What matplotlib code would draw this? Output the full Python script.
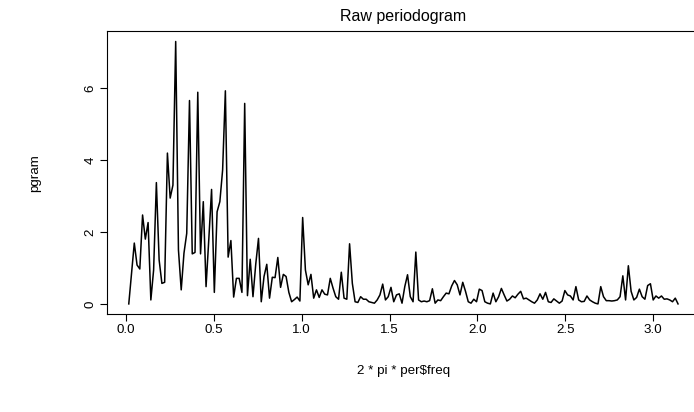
import numpy as np
import matplotlib
matplotlib.use("Agg")
import matplotlib.pyplot as plt

plt.rcParams['font.family'] = ['Liberation Sans', 'DejaVu Sans']

# raw periodogram ordinates (k = 1..200 of n = 400)
pgram = [
    0.00, 0.85, 1.69, 1.08, 0.97, 2.47, 1.80, 2.26, 0.11, 0.94,
    3.37, 1.22, 0.57, 0.60, 4.19, 2.94, 3.30, 7.29, 1.50, 0.39,
    1.41, 1.96, 5.65, 1.39, 1.43, 5.88, 1.39, 2.84, 0.48, 1.80,
    3.18, 0.32, 2.56, 2.84, 3.72, 5.92, 1.30, 1.76, 0.19, 0.71,
    0.71, 0.32, 5.57, 0.23, 1.24, 0.20, 1.10, 1.82, 0.06, 0.76,
    1.10, 0.16, 0.74, 0.73, 1.29, 0.46, 0.82, 0.76, 0.32, 0.06,
    0.12, 0.19, 0.08, 2.40, 0.94, 0.53, 0.82, 0.16, 0.39, 0.18,
    0.39, 0.27, 0.25, 0.71, 0.44, 0.20, 0.13, 0.88, 0.16, 0.13,
    1.67, 0.57, 0.06, 0.04, 0.20, 0.13, 0.13, 0.06, 0.04, 0.02,
    0.11, 0.25, 0.55, 0.11, 0.20, 0.46, 0.06, 0.25, 0.28, 0.02,
    0.48, 0.81, 0.20, 0.06, 1.44, 0.11, 0.06, 0.08, 0.06, 0.09,
    0.42, 0.02, 0.11, 0.09, 0.20, 0.30, 0.28, 0.50, 0.65, 0.53,
    0.25, 0.60, 0.35, 0.06, 0.02, 0.13, 0.06, 0.41, 0.37, 0.06,
    0.02, 0.00, 0.30, 0.06, 0.20, 0.43, 0.25, 0.08, 0.13, 0.22,
    0.17, 0.27, 0.35, 0.14, 0.16, 0.11, 0.06, 0.02, 0.11, 0.28,
    0.13, 0.32, 0.06, 0.04, 0.14, 0.08, 0.02, 0.08, 0.37, 0.25,
    0.22, 0.11, 0.48, 0.11, 0.06, 0.07, 0.22, 0.11, 0.06, 0.02,
    0.00, 0.48, 0.20, 0.09, 0.09, 0.08, 0.09, 0.11, 0.20, 0.78,
    0.11, 1.06, 0.35, 0.11, 0.18, 0.41, 0.20, 0.13, 0.51, 0.56,
    0.11, 0.22, 0.16, 0.22, 0.13, 0.14, 0.11, 0.06, 0.16, 0.00,
]
n_obs = 400
per_freq = np.arange(1, len(pgram) + 1) / n_obs

x_ticks = [0.0, 0.5, 1.0, 1.5, 2.0, 2.5, 3.0]
x_ticklabels = ['0.0', '0.5', '1.0', '1.5', '2.0', '2.5', '3.0']
y_ticks = [0, 2, 4, 6]
y_ticklabels = ['0', '2', '4', '6']

W, H = 694, 412
fig = plt.figure(figsize=(W / 100, H / 100), dpi=100)
# plot region in pixels (R style, right edge falls just off the image)
left, right, top, bottom = 106.8, 700.0, 31.0, 314.4
ax = fig.add_axes([left / W, 1 - bottom / H, (right - left) / W, (bottom - top) / H])

x = 2 * np.pi * per_freq
y = np.array(pgram)
ax.plot(x, y, color='black', lw=1.1)

# R's default 4% axis extension
xr = x.max() - x.min()
yr = y.max() - y.min()
ax.set_xlim(x.min() - 0.04 * xr, x.max() + 0.04 * xr)
ax.set_ylim(y.min() - 0.04 * yr, y.max() + 0.04 * yr)

fs = 9.6
ax.set_xticks(x_ticks)
ax.set_xticklabels(x_ticklabels, fontsize=fs)
ax.set_yticks(y_ticks)
ax.set_yticklabels(y_ticklabels, fontsize=fs, rotation=90, va='center')
ax.tick_params(direction='out', length=5.2, width=0.8, color='black', pad=2.0)

for s in ax.spines.values():
    s.set_linewidth(0.8)

ax.set_xlabel('2 * pi * per$freq', fontsize=fs, va='center')
ax.xaxis.set_label_coords(0.5, (bottom - 371) / (bottom - top))
ax.set_ylabel('pgram', fontsize=fs, va='center')
ax.yaxis.set_label_coords((35 - left) / (right - left), 0.5)
ax.set_title('Raw periodogram', fontsize=11.5, y=1 + (top - 17) / (bottom - top),
             va='center', pad=0)

fig.savefig('out.png', dpi=100)
